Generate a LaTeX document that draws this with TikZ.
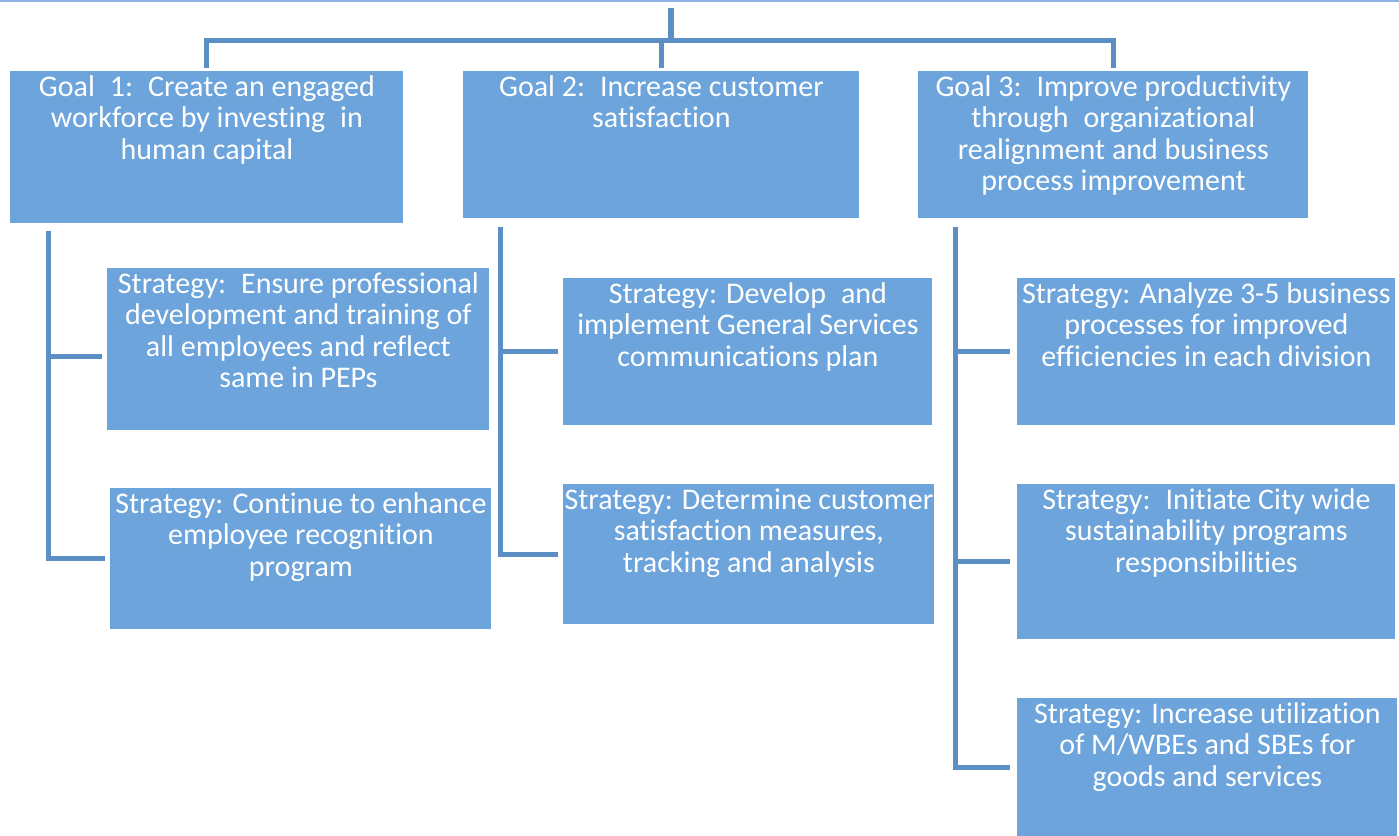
\documentclass[tikz,border=0pt]{standalone}
\usepackage{fontspec}
\setmainfont{Carlito}[RawFeature={-liga;-clig;-calt;-dlig}]
\usetikzlibrary{positioning,calc}
\definecolor{boxblue}{RGB}{108,164,219}
\definecolor{lineblue}{RGB}{92,143,196}
\definecolor{topblue}{RGB}{141,180,226}
\newcommand{\boxtext}[3]{\parbox[t][#2][t]{#1}{\centering\rule{0pt}{12.5pt}#3}}

\begin{document}
\begin{tikzpicture}[x=0.5pt,y=-0.5pt,
  box/.style={fill=boxblue, inner sep=0pt, anchor=north west, text=white,
    font=\fontsize{15}{15.75}\selectfont},
  link/.style={draw=lineblue, line width=2.5pt},
  stem/.style={draw=lineblue, line width=3pt}]
\useasboundingbox (0,0) rectangle (1399,836);

% Top rule
\draw[topblue, line width=1pt] (0,1) -- (1399,1);

% Goals
\node[box] (g1) at (10,71) {\boxtext{196.5pt}{76pt}{Goal\enspace 1:\enspace Create an engaged\\ workforce by investing\enspace in\\ human capital}};
\node[box] (g2) at (463,71) {\boxtext{198pt}{73.5pt}{Goal 2:\enspace Increase customer\\ satisfaction}};
\node[box] (g3) at (918,71) {\boxtext{195pt}{73.5pt}{Goal 3:\enspace Improve productivity\\ through\enspace organizational\\ realignment and business\\ process improvement}};

% Strategies
\node[box] (s1a) at (107,268) {\boxtext{191pt}{81pt}{Strategy:\enspace Ensure professional\\ development and training of\\ all employees and reflect\\ same in PEPs}};
\node[box] (s1b) at (110,488) {\boxtext{190.5pt}{70.5pt}{Strategy: Continue to enhance\\ employee recognition\\ program}};
\node[box] (s2a) at (563,278) {\boxtext{184.5pt}{73.5pt}{Strategy: Develop\enspace and\\ implement General Services\\ communications plan}};
\node[box] (s2b) at (563,484) {\boxtext{185.5pt}{70pt}{Strategy: Determine customer\\ satisfaction measures,\\ tracking and analysis}};
\node[box] (s3a) at (1017,278) {\boxtext{189pt}{73.5pt}{Strategy: Analyze 3-5 business\\ processes for improved\\ efficiencies in each division}};
\node[box] (s3b) at (1017,484) {\boxtext{189pt}{77.5pt}{Strategy:\enspace Initiate City wide\\ sustainability programs\\ responsibilities}};
\node[box] (s3c) at (1017,698) {\boxtext{190pt}{69pt}{Strategy: Increase utilization\\ of M/WBEs and SBEs for\\ goods and services}};

% Top connectors
\coordinate (top) at (671,8);
\coordinate (bar) at (671,40);
\draw[stem] (top) -- (bar);
\foreach \g in {g1,g2,g3}
  \draw[link, shorten >=1.5pt] (bar) -| (\g.north);

% Spines
\coordinate[below right=3.5pt and 19pt of g1.south west] (sp1);
\coordinate[below right=4pt and 18.5pt of g2.south west] (sp2);
\coordinate[below right=4pt and 18.5pt of g3.south west] (sp3);
\draw[link, shorten >=2.5pt] (sp1) |- ([yshift=-3.5pt]s1a.west);
\draw[link, shorten >=2.5pt] (sp1) |- (s1b.west);
\foreach \s in {s2a,s2b}
  \draw[link, shorten >=2.5pt] (sp2) |- (\s.west);
\foreach \s in {s3a,s3b,s3c}
  \draw[link, shorten >=3.5pt] (sp3) |- (\s.west);
\end{tikzpicture}
\end{document}
